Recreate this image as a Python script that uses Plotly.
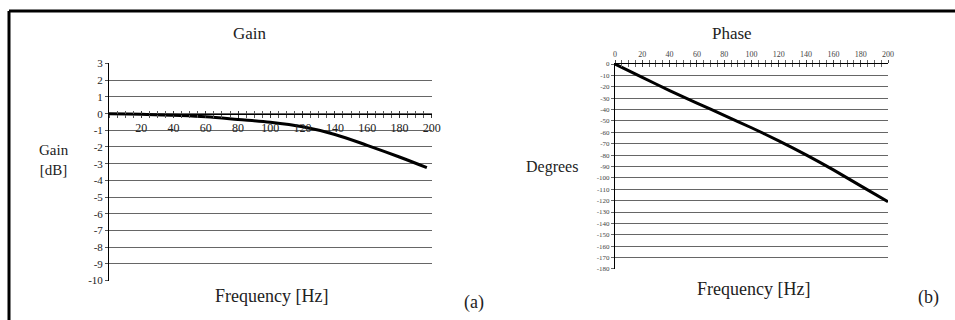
import plotly.graph_objects as go

# ---------------- data ----------------
gain_freq = [0, 20, 40, 60, 80, 100, 120, 140, 160, 180, 197]
gain_db = [0, -0.03, -0.1, -0.19, -0.35, -0.52, -0.79, -1.25, -1.9, -2.6, -3.24]

phase_freq = [0, 20, 40, 60, 80, 100, 120, 140, 160, 180, 200]
phase_deg = [0, -11.8, -23.3, -34.3, -45.1, -56, -67.5, -79.8, -93, -107, -121]

gain_xticks = [20, 40, 60, 80, 100, 120, 140, 160, 180, 200]
gain_yticks = [3, 2, 1, 0, -1, -2, -3, -4, -5, -6, -7, -8, -9, -10]
gain_ylabels = ["3", "2", "1", "0", "-1", "-2", "-3", "-4", "-5", "-6", "-7", "-8", "-9", "-10"]

phase_xticks = [0, 20, 40, 60, 80, 100, 120, 140, 160, 180, 200]
phase_yticks = [0, -10, -20, -30, -40, -50, -60, -70, -80, -90, -100, -110, -120,
                -130, -140, -150, -160, -170, -180]
phase_ylabels = ["0", "-10", "-20", "-30", "-40", "-50", "-60", "-70", "-80", "-90", "-100",
                 "-110", "-120", "-130", "-140", "-150", "-160", "-170", "-180"]

# ---------------- layout helpers ----------------
W, H = 955, 320
SERIF = "Liberation Serif, Times New Roman, serif"


def fx(p):
    return p / W


def fy(p):
    return 1 - p / H


fig = go.Figure()

fig.add_trace(go.Scatter(x=gain_freq, y=gain_db, mode="lines", line=dict(color="black", width=3, shape="spline"),
                         xaxis="x", yaxis="y", showlegend=False, hoverinfo="skip"))
fig.add_trace(go.Scatter(x=phase_freq, y=phase_deg, mode="lines", line=dict(color="black", width=3, shape="spline", smoothing=0.6),
                         xaxis="x2", yaxis="y2", showlegend=False, hoverinfo="skip"))
# empty helper traces so the overlay tick axes exist
fig.add_trace(go.Scatter(x=[], y=[], xaxis="x3", yaxis="y", showlegend=False, hoverinfo="skip"))
fig.add_trace(go.Scatter(x=[], y=[], xaxis="x4", yaxis="y2", showlegend=False, hoverinfo="skip"))

gx0, gx1 = fx(109), fx(431.7)
px0, px1 = fx(615), fx(888)

fig.update_layout(
    width=W, height=H,
    margin=dict(l=0, r=0, t=0, b=0, pad=0, autoexpand=False),
    paper_bgcolor="white", plot_bgcolor="white",
    font=dict(family=SERIF, color="#222"),
    xaxis=dict(domain=[gx0, gx1], range=[0, 200], anchor="free", position=fy(113.5), automargin=False,
               showline=True, linecolor="black", linewidth=1, showgrid=False, zeroline=False,
               ticks="outside", ticklen=3, tickcolor="#333", tickvals=gain_xticks,
               tickfont=dict(family=SERIF, size=12, color="#222"),
               minor=dict(dtick=5, tick0=0, ticks="outside", ticklen=3, tickcolor="#555")),
    xaxis3=dict(domain=[gx0, gx1], range=[0, 200], anchor="free", position=fy(113.5), overlaying="x",
                automargin=False,
                showline=False, showgrid=False, zeroline=False, showticklabels=False,
                ticks="inside", ticklen=3, tickcolor="#333", tickvals=gain_xticks,
                minor=dict(dtick=5, tick0=0, ticks="inside", ticklen=3, tickcolor="#555")),
    yaxis=dict(domain=[fy(280.7), fy(63.3)], range=[-10.02, 3.02], anchor="x", automargin=False,
               showline=True, linecolor="black", linewidth=1, zeroline=False,
               showgrid=True, gridcolor="#666", gridwidth=1,
               ticks="outside", ticklen=3, tickcolor="#555",
               tickvals=gain_yticks, ticktext=gain_ylabels,
               tickfont=dict(family=SERIF, size=11, color="#222")),
    xaxis2=dict(domain=[px0, px1], range=[0, 200], anchor="y2", side="top", automargin=False,
                showline=True, linecolor="black", linewidth=1, showgrid=False, zeroline=False,
                ticks="outside", ticklen=3, tickcolor="#444", tickvals=phase_xticks,
                tickfont=dict(family=SERIF, size=8, color="#444"),
                minor=dict(dtick=5, tick0=0, ticks="outside", ticklen=3, tickcolor="#666")),
    xaxis4=dict(domain=[px0, px1], range=[0, 200], anchor="y2", side="top", overlaying="x2",
                automargin=False,
                showline=False, showgrid=False, zeroline=False, showticklabels=False,
                ticks="inside", ticklen=3, tickcolor="#444", tickvals=phase_xticks,
                minor=dict(dtick=5, tick0=0, ticks="inside", ticklen=3, tickcolor="#666")),
    yaxis2=dict(domain=[fy(269.3), fy(64)], range=[-180.3, 0], anchor="x2", automargin=False,
                showline=True, linecolor="black", linewidth=1, zeroline=False,
                showgrid=True, gridcolor="#666", gridwidth=1,
                ticks="outside", ticklen=3, tickcolor="#666",
                tickvals=phase_yticks, ticktext=phase_ylabels,
                tickfont=dict(family=SERIF, size=7, color="#444")),
)

ann = [
    ("Gain", 250, 33, 17),
    ("Phase", 732, 33, 17),
    ("Gain<br>[dB]", 54, 160, 15),
    ("Degrees", 552, 167, 16),
    ("Frequency [Hz]", 271, 296, 18),
    ("Frequency [Hz]", 753, 289, 18),
    ("(a)", 474, 302, 18),
    ("(b)", 928, 297, 18),
]
for text, x, y, s in ann:
    fig.add_annotation(text=text, x=fx(x), y=fy(y), xref="paper", yref="paper",
                       xanchor="center", yanchor="middle", showarrow=False,
                       font=dict(family=SERIF, size=s, color="#222"))

# outer frame (top and left edges)
fig.add_shape(type="line", xref="paper", yref="paper", x0=fx(9), x1=1.0, y0=fy(11), y1=fy(11),
              line=dict(color="black", width=3))
fig.add_shape(type="line", xref="paper", yref="paper", x0=fx(9), x1=fx(9), y0=fy(11), y1=0,
              line=dict(color="black", width=3))

fig.write_html("out.html")
